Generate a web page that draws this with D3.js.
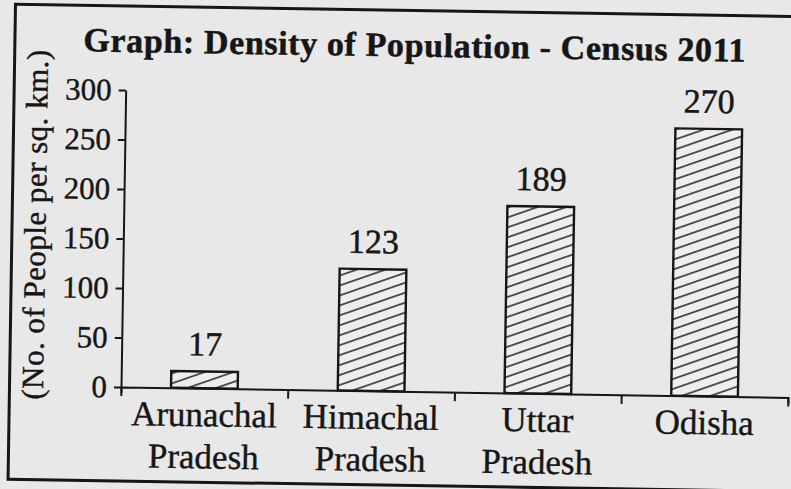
<!DOCTYPE html>
<html><head><meta charset="utf-8">
<script src="https://cdn.jsdelivr.net/npm/d3@7"></script>
<style>html,body{margin:0;padding:0;background:#e8e8e8;} svg{display:block;} text{paint-order:stroke;}</style>
</head><body><svg id="chart" width="791" height="489"></svg>
<script>
const title = "Graph: Density of Population - Census 2011";
const yLabel = "(No. of People per sq. km.)";
const categories = ["Arunachal Pradesh", "Himachal Pradesh", "Uttar Pradesh", "Odisha"];
const density = [17, 123, 189, 270];
const yTicks = [0, 50, 100, 150, 200, 250, 300];

const W = 791, H = 489;
const ink = "#161616", paper = "#e8e8e8";
const font = "'Liberation Serif', 'Times New Roman', serif";
const svg = d3.select("#chart");
svg.append("rect").attr("width", W).attr("height", H).attr("fill", paper);

const defs = svg.append("defs");
const pat = defs.append("pattern").attr("id", "hatch")
  .attr("patternUnits", "userSpaceOnUse").attr("width", 20).attr("height", 9.4)
  .attr("patternTransform", "rotate(-20)");
pat.append("rect").attr("width", 20).attr("height", 9.4).attr("fill", "#eeeeee");
pat.append("line").attr("x1", 0).attr("x2", 20).attr("y1", 4.7).attr("y2", 4.7)
  .attr("stroke", ink).attr("stroke-width", 1.4);

const ox = 121, oy = 387;
const g = svg.append("g").attr("transform", `rotate(0.9,${ox},${oy})`);

// frame
g.append("rect").attr("x", 9.5).attr("y", 6).attr("width", 830).attr("height", 475)
  .attr("fill", "none").attr("stroke", ink).attr("stroke-width", 3);

const x = d3.scaleBand().domain(categories).range([121, 788]).paddingInner(0.6).paddingOuter(0.3);
const xEdge = d3.scaleLinear().domain([0, categories.length]).range([121, 788]);
const y = d3.scaleLinear().domain([0, 300]).range([oy, 90]);

function heavy(sel, w) { return sel.attr("stroke", ink).attr("stroke-width", w); }

// title
heavy(g.append("text").attr("x", 409).attr("y", 52).attr("text-anchor", "middle")
  .attr("font-family", font).attr("font-weight", "bold").attr("font-size", 34)
  .attr("fill", ink).attr("textLength", 662).attr("lengthAdjust", "spacing").text(title), 0.5);

// y label
heavy(g.append("text").attr("transform", "translate(43,226) rotate(-90)").attr("text-anchor", "middle")
  .attr("font-family", font).attr("font-size", 31).attr("fill", ink)
  .attr("textLength", 350).attr("lengthAdjust", "spacing").text(yLabel), 0.4);

// bars
g.selectAll("rect.bar").data(categories).join("rect").attr("class", "bar")
  .attr("x", d => x(d)).attr("width", x.bandwidth())
  .attr("y", (d, i) => y(density[i])).attr("height", (d, i) => y(0) - y(density[i]))
  .attr("fill", "url(#hatch)").attr("stroke", ink).attr("stroke-width", 2.4);

// value labels
heavy(g.selectAll("text.val").data(categories).join("text").attr("class", "val")
  .attr("x", d => x(d) + x.bandwidth() / 2).attr("y", (d, i) => y(density[i]) - 16)
  .attr("text-anchor", "middle").attr("font-family", font).attr("font-size", 34)
  .attr("fill", ink).text((d, i) => density[i]), 0.5);

// y axis
const ya = g.append("g").attr("transform", `translate(${ox},0)`)
  .call(d3.axisLeft(y).tickValues(yTicks).tickSize(7).tickPadding(7).tickSizeOuter(0));
ya.selectAll("path,line").attr("stroke", ink).attr("stroke-width", 2);
heavy(ya.selectAll("text").attr("font-family", font).attr("font-size", 31).attr("fill", ink), 0.4);

// x axis
const xa = g.append("g").attr("transform", `translate(0,${oy})`)
  .call(d3.axisBottom(xEdge).tickValues(d3.range(categories.length + 1)).tickFormat("").tickSize(9).tickSizeOuter(6));
xa.selectAll("path,line").attr("stroke", ink).attr("stroke-width", 2);

// category labels
const cl = heavy(g.selectAll("text.cat").data(categories).join("text").attr("class", "cat")
  .attr("text-anchor", "middle").attr("font-family", font).attr("font-size", 35).attr("fill", ink), 0.4);
cl.each(function (d) {
  const parts = d.split(" ");
  const cx = x(d) + x.bandwidth() / 2;
  d3.select(this).selectAll("tspan").data(parts).join("tspan")
    .attr("x", cx).attr("y", (p, i) => 425 + i * 42).text(p => p);
});
</script></body></html>
